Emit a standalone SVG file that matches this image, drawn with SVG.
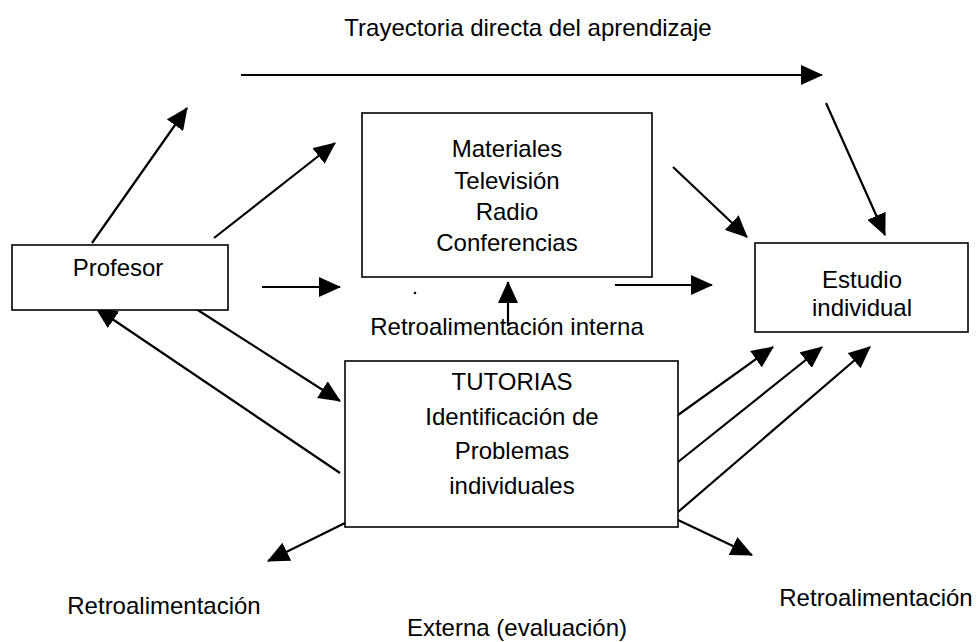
<svg xmlns="http://www.w3.org/2000/svg" width="980" height="642" viewBox="0 0 980 642">
<style>
.box{fill:#fff;stroke:#000;stroke-width:1.6}
.t{font-family:"Liberation Sans",Arial,sans-serif;font-size:24px;fill:#000;text-anchor:middle;dominant-baseline:central}
.c{stroke:#000;stroke-width:2.2;fill:none;marker-end:url(#ah)}
</style>
<defs>
<marker id="ah" viewBox="0 0 22 20" refX="21" refY="10" markerWidth="22" markerHeight="20" markerUnits="userSpaceOnUse" orient="auto">
<path d="M0,0 L22,10 L0,20 z" fill="#000"/>
</marker>
</defs>
<rect width="980" height="642" fill="#fff"/>
<g id="connectors">
<line class="c" x1="241" y1="75" x2="822" y2="75"/>
<line class="c" x1="826" y1="103" x2="885" y2="235"/>
<line class="c" x1="673" y1="167" x2="747" y2="237"/>
<line class="c" x1="92" y1="243" x2="187" y2="108"/>
<line class="c" x1="214" y1="238" x2="335" y2="143"/>
<line class="c" x1="262" y1="287" x2="340" y2="287"/>
<line class="c" x1="193" y1="307" x2="340" y2="401"/>
<line class="c" x1="340" y1="473" x2="96" y2="308"/>
<line class="c" x1="508" y1="326" x2="508" y2="282"/>
<line class="c" x1="615" y1="285" x2="712" y2="285"/>
<line class="c" x1="678" y1="415" x2="773" y2="347"/>
<line class="c" x1="678" y1="462" x2="822" y2="347"/>
<line class="c" x1="678" y1="512" x2="870" y2="347"/>
<line class="c" x1="678" y1="520" x2="752" y2="555"/>
<line class="c" x1="345" y1="523" x2="268" y2="561"/>
<circle cx="415" cy="293" r="1.3" fill="#000"/>
</g>
<g id="profesor">
<rect class="box" x="12" y="245" width="216" height="65"/>
<text class="t" x="118" y="267">Profesor</text>
</g>
<g id="materiales">
<rect class="box" x="362" y="113" width="290" height="164"/>
<text class="t" x="507" y="148">Materiales</text>
<text class="t" x="507" y="180">Televisión</text>
<text class="t" x="507" y="211">Radio</text>
<text class="t" x="507" y="242">Conferencias</text>
</g>
<g id="estudio">
<rect class="box" x="755" y="243" width="213" height="89"/>
<text class="t" x="862" y="279">Estudio</text>
<text class="t" x="862" y="307">individual</text>
</g>
<g id="tutorias">
<rect class="box" x="345" y="361" width="333" height="166"/>
<text class="t" x="512" y="381">TUTORIAS</text>
<text class="t" x="512" y="416">Identificación de</text>
<text class="t" x="512" y="450">Problemas</text>
<text class="t" x="512" y="485">individuales</text>
</g>
<g id="labels">
<text class="t" x="528" y="27">Trayectoria directa del aprendizaje</text>
<text class="t" x="507" y="326">Retroalimentación interna</text>
<text class="t" x="164" y="605">Retroalimentación</text>
<text class="t" x="876" y="597">Retroalimentación</text>
<text class="t" x="517" y="627">Externa (evaluación)</text>
</g>
</svg>
